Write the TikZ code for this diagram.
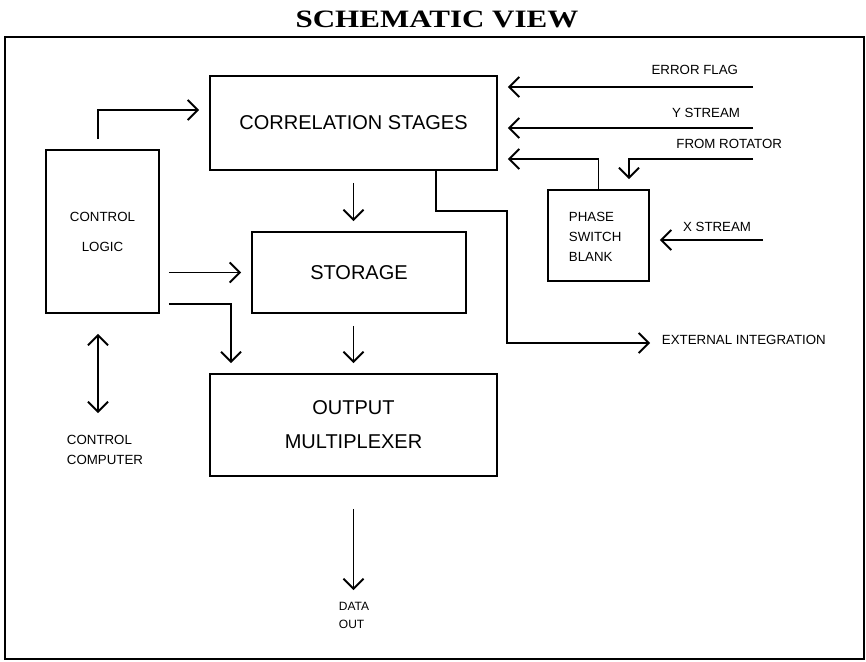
\documentclass[tikz,border=0pt]{standalone}
\usepackage{fontspec}
\setmainfont{Liberation Sans}
\newfontfamily\titlefont{Liberation Serif}
\usetikzlibrary{arrows.meta}
\begin{document}
\begin{tikzpicture}[x=1pt,y=-1pt,
  line width=1.9pt,
  blk/.style={draw, rectangle, inner sep=0pt, align=center,
              font=\fontsize{20}{34}\selectfont},
  lbl/.style={inner sep=0pt, align=left, font=\fontsize{13.3}{20}\selectfont},
  tip/.style={-{Straight Barb[length=10pt,width=20pt]}},
  arr/.style={tip, shorten >=10pt},
  darr/.style={{Straight Barb[length=10pt,width=20pt]}-{Straight Barb[length=10pt,width=20pt]}}
]
\useasboundingbox (0,0) rectangle (866,661);

% title and outer frame
\node[inner sep=0pt, font=\titlefont\bfseries\fontsize{25}{28}\selectfont, xscale=1.24]
  (title) at (437,19) {SCHEMATIC VIEW};
\draw[line width=2.4pt] (5,37) rectangle (864,659);

% blocks
\node[blk, minimum width=287pt, minimum height=94pt] (corr) at (353.5,123) {CORRELATION STAGES};
\node[blk, minimum width=113pt, minimum height=163pt, font=\fontsize{13.3}{30}\selectfont]
  (ctrl) at (102.5,231.5) {CONTROL\\LOGIC};
\node[blk, minimum width=214pt, minimum height=81pt] (stor) at (359,272.5) {STORAGE};
\node[blk, minimum width=287pt, minimum height=102pt] (outm) at (353.5,425) {OUTPUT\\MULTIPLEXER};
\node[blk, minimum width=101pt, minimum height=91pt] (phase) at (598.5,235.5) {};
\node[lbl, anchor=west] (phasetxt) at (568,237) {PHASE\\SWITCH\\BLANK};

% free ends of the input and output lines
\coordinate (ef) at (753,87);
\coordinate (ys) at (753,128);
\coordinate (fr) at (753,159);
\coordinate (xs) at (763,240);
\coordinate (eiturn) at (507,211);
\coordinate (ei) at (650,343);
\coordinate (cc) at (98,413);
\coordinate (dout) at (355,590);

% labels
\node[lbl, anchor=east] (eflbl) at (739,70) {ERROR FLAG};
\node[lbl, anchor=east] (yslbl) at (741,113) {Y STREAM};
\node[lbl, anchor=east] (frlbl) at (783,144) {FROM ROTATOR};
\node[lbl, anchor=east] (xslbl) at (752,227) {X STREAM};
\node[lbl, anchor=west] (eilbl) at (661,340) {EXTERNAL INTEGRATION};
\node[lbl, anchor=north west] (cclbl) at (66,434) {CONTROL\\COMPUTER};
\node[lbl, anchor=north west, font=\fontsize{12}{18}\selectfont] (dolbl) at (338,601) {DATA\\OUT};

% connectors
\draw[arr] ([xshift=-4.5pt, yshift=10pt]ctrl.north) |- ([yshift=13pt]corr.west);
\draw[arr] (ef) -- (corr.east |- ef);
\draw[arr] (ys) -- (corr.east |- ys);
\draw[arr] (phase.north) |- (corr.east |- fr);
\draw[arr] (fr) -| ([xshift=30.5pt]phase.north);
\draw[arr] (xs) -- (phase.east |- xs);
\draw[tip] ([xshift=82.5pt]corr.south) |- (eiturn) |- (ei);
\draw[arr, shorten <=12pt] (corr.south) -- (corr.south |- stor.north);
\draw[arr, shorten <=9pt] (ctrl.east |- stor.west) -- (stor.west);
\draw[arr, shorten <=9pt] ([yshift=10pt]ctrl.south east) -| ([xshift=22pt]outm.north west);
\draw[arr, shorten <=12pt] (stor.south -| outm.north) -- (outm.north);
\draw[darr, shorten <=20pt] ([xshift=-4.5pt]ctrl.south) -- (cc);
\draw[tip, shorten <=32pt] (outm.south) -- (outm.south |- dout);
\end{tikzpicture}
\end{document}
